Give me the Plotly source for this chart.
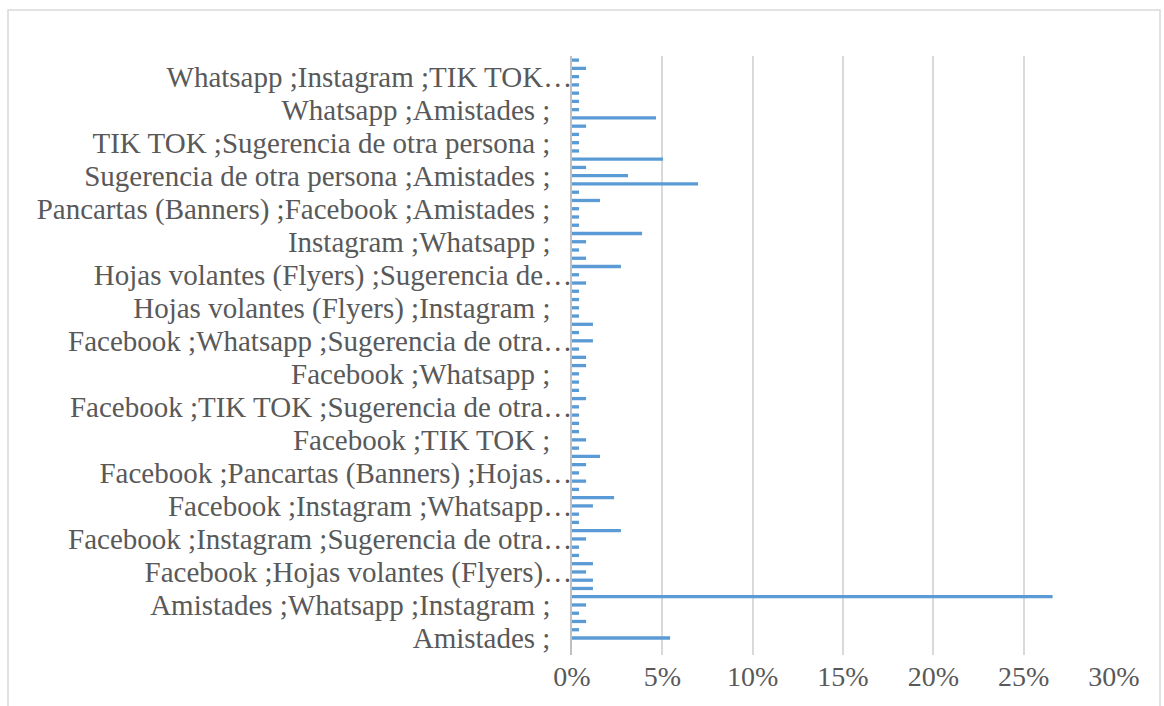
import plotly.graph_objects as go

categories = [
    "Amistades ;",
    "Amistades ;Facebook ;",
    "Amistades ;Instagram ;",
    "Amistades ;Sugerencia de otra persona ;",
    "Amistades ;Whatsapp ;Instagram ;",
    "Facebook ;",
    "Facebook ;Amistades ;",
    "Facebook ;Hojas volantes (Flyers) ;",
    "Facebook ;Hojas volantes (Flyers) ;Amistades ;",
    "Facebook ;Instagram ;",
    "Facebook ;Instagram ;Amistades ;",
    "Facebook ;Instagram ;Hojas volantes (Flyers) ;",
    "Facebook ;Instagram ;Sugerencia de otra persona ;",
    "Facebook ;Instagram ;Whatsapp ;",
    "Facebook ;Instagram ;Whatsapp ;Amistades ;",
    "Facebook ;Instagram ;Whatsapp ;Sugerencia de otra persona ;",
    "Facebook ;Instagram ;Whatsapp ;TIK TOK ;",
    "Facebook ;Pancartas (Banners) ;",
    "Facebook ;Pancartas (Banners) ;Amistades ;",
    "Facebook ;Pancartas (Banners) ;Hojas volantes (Flyers) ;",
    "Facebook ;Pancartas (Banners) ;Hojas volantes (Flyers) ;Amistades ;",
    "Facebook ;Sugerencia de otra persona ;",
    "Facebook ;Sugerencia de otra persona ;Amistades ;",
    "Facebook ;Sugerencia de otra persona ;Whatsapp ;",
    "Facebook ;TIK TOK ;",
    "Facebook ;TIK TOK ;Amistades ;",
    "Facebook ;TIK TOK ;Instagram ;",
    "Facebook ;TIK TOK ;Instagram ;Whatsapp ;",
    "Facebook ;TIK TOK ;Sugerencia de otra persona ;",
    "Facebook ;TIK TOK ;Whatsapp ;",
    "Facebook ;TIK TOK ;Whatsapp ;Amistades ;",
    "Facebook ;TIK TOK ;Whatsapp ;Instagram ;",
    "Facebook ;Whatsapp ;",
    "Facebook ;Whatsapp ;Amistades ;",
    "Facebook ;Whatsapp ;Instagram ;",
    "Facebook ;Whatsapp ;Pancartas (Banners) ;",
    "Facebook ;Whatsapp ;Sugerencia de otra persona ;",
    "Facebook ;Whatsapp ;TIK TOK ;",
    "Hojas volantes (Flyers) ;",
    "Hojas volantes (Flyers) ;Facebook ;",
    "Hojas volantes (Flyers) ;Instagram ;",
    "Hojas volantes (Flyers) ;Pancartas (Banners) ;",
    "Hojas volantes (Flyers) ;Pancartas (Banners) ;Amistades ;",
    "Hojas volantes (Flyers) ;Pancartas (Banners) ;Facebook ;",
    "Hojas volantes (Flyers) ;Sugerencia de otra persona ;",
    "Instagram ;",
    "Instagram ;Amistades ;",
    "Instagram ;TIK TOK ;",
    "Instagram ;Whatsapp ;",
    "Instagram ;Whatsapp ;Amistades ;",
    "Instagram ;Whatsapp ;TIK TOK ;",
    "Pancartas (Banners) ;",
    "Pancartas (Banners) ;Facebook ;Amistades ;",
    "Pancartas (Banners) ;Hojas volantes (Flyers) ;",
    "Pancartas (Banners) ;Whatsapp ;",
    "Sugerencia de otra persona ;",
    "Sugerencia de otra persona ;Amistades ;",
    "Sugerencia de otra persona ;Instagram ;",
    "TIK TOK ;",
    "TIK TOK ;Amistades ;",
    "TIK TOK ;Sugerencia de otra persona ;",
    "TIK TOK ;Whatsapp ;",
    "TIK TOK ;Whatsapp ;Instagram ;",
    "Whatsapp ;",
    "Whatsapp ;Amistades ;",
    "Whatsapp ;Facebook ;",
    "Whatsapp ;Hojas volantes (Flyers) ;",
    "Whatsapp ;Instagram ;",
    "Whatsapp ;Instagram ;TIK TOK ;Amistades ;",
    "Whatsapp ;Sugerencia de otra persona ;",
    "Whatsapp ;TIK TOK ;",
]

# share of respondents, in percent
values = [
    5.43, 0.39, 0.78, 0.39, 0.78, 26.6, 1.16, 1.16, 0.78, 1.16,
    0.39, 0.39, 0.78, 2.71, 0.39, 0.39, 1.16, 2.33, 0.39, 0.78,
    0.39, 0.78, 1.55, 0.39, 0.78, 0.39, 0.39, 0.39, 0.39, 0.78,
    0.39, 0.39, 0.39, 0.78, 0.78, 0.39, 1.16, 0.39, 1.16, 0.39,
    0.39, 0.39, 0.39, 0.78, 0.39, 2.71, 0.78, 0.39, 0.78, 3.88,
    0.39, 0.39, 0.39, 1.55, 0.39, 6.98, 3.10, 0.78, 5.04, 0.39,
    0.39, 0.39, 0.78, 4.65, 0.39, 0.39, 0.39, 0.39, 0.39, 0.78,
    0.39,
]

# labels shown on the category axis (every 4th category)
tick_labels = [
    "Amistades ;\u00a0\u00a0\u00a0",
    "Amistades ;Whatsapp ;Instagram ;\u00a0\u00a0\u00a0",
    "Facebook ;Hojas volantes (Flyers)…",
    "Facebook ;Instagram ;Sugerencia de otra…",
    "Facebook ;Instagram ;Whatsapp…",
    "Facebook ;Pancartas (Banners) ;Hojas…",
    "Facebook ;TIK TOK ;\u00a0\u00a0\u00a0",
    "Facebook ;TIK TOK ;Sugerencia de otra…",
    "Facebook ;Whatsapp ;\u00a0\u00a0\u00a0",
    "Facebook ;Whatsapp ;Sugerencia de otra…",
    "Hojas volantes (Flyers) ;Instagram ;\u00a0\u00a0\u00a0",
    "Hojas volantes (Flyers) ;Sugerencia de…",
    "Instagram ;Whatsapp ;\u00a0\u00a0\u00a0",
    "Pancartas (Banners) ;Facebook ;Amistades ;\u00a0\u00a0\u00a0",
    "Sugerencia de otra persona ;Amistades ;\u00a0\u00a0\u00a0",
    "TIK TOK ;Sugerencia de otra persona ;\u00a0\u00a0\u00a0",
    "Whatsapp ;Amistades ;\u00a0\u00a0\u00a0",
    "Whatsapp ;Instagram ;TIK TOK…",
]
tick_positions = categories[::4]

x_ticks = [0, 5, 10, 15, 20, 25, 30]
x_tick_labels = ["0%", "5%", "10%", "15%", "20%", "25%", "30%"]

L, R, T, B = 572, 1114, 56, 655
W, H = 1164, 706

fig = go.Figure(
    go.Bar(
        y=categories,
        x=values,
        orientation="h",
        marker=dict(color="#5B9BD5", line=dict(width=0)),
        hoverinfo="x+y",
    )
)

pw, ph = R - L, B - T
fig.add_shape(
    type="rect", xref="paper", yref="paper",
    x0=(8 - L) / pw, x1=(1160 - L) / pw,
    y0=(B - 712) / ph, y1=(B - 10) / ph,
    line=dict(color="#d9d9d9", width=1.5), fillcolor="rgba(0,0,0,0)",
    layer="below",
)

fig.update_layout(
    width=W, height=H,
    margin=dict(l=L, r=W - R, t=T, b=H - B, pad=0),
    paper_bgcolor="white", plot_bgcolor="white",
    bargap=0.6, showlegend=False,
    font=dict(family="Liberation Serif", size=28, color="#595959"),
    xaxis=dict(
        range=[0, 30], tickmode="array", tickvals=x_ticks, ticktext=x_tick_labels,
        showgrid=True, gridcolor="#d9d9d9", gridwidth=1.5,
        zeroline=False, showline=False, ticks="", fixedrange=True,
        ticklabelstandoff=2, tickfont=dict(size=28),
    ),
    yaxis=dict(
        type="category", categoryorder="array", categoryarray=categories,
        range=[-2.06, 70.5], tickmode="array", tickvals=tick_positions,
        ticktext=tick_labels, tickfont=dict(size=29),
        showgrid=False, showline=True, linecolor="#bfbfbf", linewidth=2,
        ticks="", ticklabelstandoff=-8,
        zeroline=False, fixedrange=True, automargin=False,
    ),
)

fig.write_html(
    "out.html",
    config={"displayModeBar": False},
    post_script="document.body.style.margin='0';document.body.style.overflow='hidden';",
)
